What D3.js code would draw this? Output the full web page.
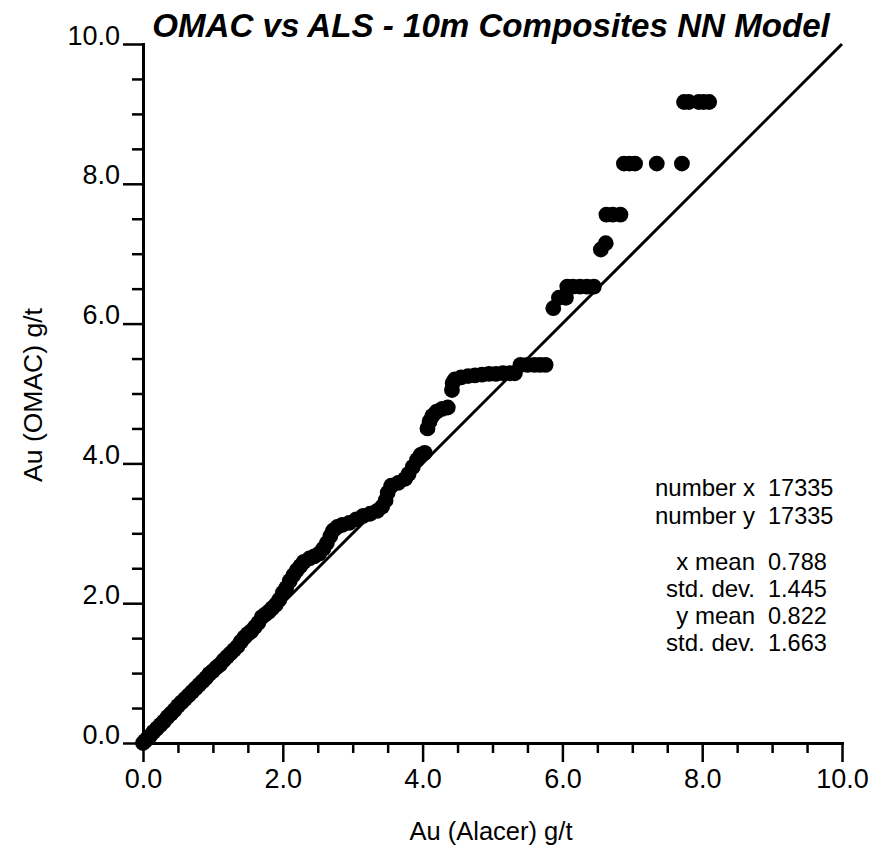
<!DOCTYPE html>
<html><head><meta charset="utf-8">
<script src="https://cdn.jsdelivr.net/npm/d3@7"></script>
<style>
html,body{margin:0;padding:0;background:#fff;}
svg{display:block;font-family:"Liberation Sans",Arial,sans-serif;}
</style></head>
<body>
<svg id="c" width="875" height="855"></svg>
<script>
// ---- data (quantile pairs) ----
const qx = [0,0.03,0.06,0.1,0.15,0.2,0.25,0.3,0.35,0.4,0.45,0.5,0.55,0.6,0.65,0.7,0.75,0.8,0.85,0.9,0.95,1.0,1.05,1.1,1.15,1.2,1.25,1.3,1.35,1.4,1.45,1.5,1.55,1.6,1.65,1.7,1.75,1.8,1.85,1.9,1.95,
  2.0,2.05,2.1,2.15,2.2,2.25,2.3,2.38,2.45,2.52,2.58,2.63,2.68,2.72,2.78,2.85,2.95,3.05,3.15,3.25,3.35,3.42,3.47,3.5,3.55,3.65,3.75,3.8,3.86,3.92,3.97,4.03,
  4.07,4.1,4.14,4.2,4.28,4.36,
  4.42,4.43,4.46,4.55,4.65,4.75,4.85,4.95,5.05,5.15,5.25,5.32,
  5.4,5.5,5.6,5.68,5.76,
  5.87,5.95,6.05,
  6.07,6.15,6.25,6.35,6.45,
  6.55,6.62,
  6.63,6.72,6.83,
  6.88,6.96,7.04,7.35,7.71,
  7.74,7.81,7.95,8.02,8.1];
const qy = [0,0.03,0.06,0.1,0.16,0.21,0.26,0.31,0.37,0.42,0.47,0.53,0.58,0.63,0.68,0.73,0.78,0.83,0.88,0.93,0.99,1.03,1.08,1.12,1.18,1.23,1.28,1.33,1.38,1.45,1.51,1.56,1.6,1.66,1.72,1.8,1.84,1.88,1.93,1.98,2.05,
  2.15,2.22,2.32,2.4,2.47,2.53,2.59,2.64,2.67,2.71,2.78,2.86,2.96,3.04,3.09,3.12,3.15,3.2,3.25,3.28,3.32,3.38,3.47,3.58,3.68,3.72,3.78,3.85,3.95,4.05,4.12,4.15,
  4.5,4.6,4.68,4.74,4.78,4.8,
  5.05,5.15,5.2,5.23,5.25,5.26,5.27,5.28,5.28,5.29,5.29,5.29,
  5.41,5.41,5.41,5.41,5.41,
  6.22,6.37,6.37,
  6.53,6.53,6.53,6.53,6.53,
  7.06,7.15,
  7.56,7.56,7.56,
  8.29,8.29,8.29,8.29,8.29,
  9.17,9.17,9.17,9.17,9.17];
const tickValues = d3.range(0, 10.01, 0.5);
const majorTicks = [0, 2, 4, 6, 8, 10];
const titleText = "OMAC vs ALS - 10m Composites NN Model";
const xTitle = "Au (Alacer) g/t";
const yTitle = "Au (OMAC) g/t";
const statLabels = ["number x", "number y", "x mean", "std. dev.", "y mean", "std. dev."];
const statValues = ["17335", "17335", "0.788", "1.445", "0.822", "1.663"];

const svg = d3.select("#c");
const x = d3.scaleLinear().domain([0, 10]).range([143, 842]);
const y = d3.scaleLinear().domain([0, 10]).range([743, 44]);
const isMajor = v => majorTicks.some(m => Math.abs(m - v) < 1e-9);
const fmt = d3.format(".1f");

// diagonal reference line
svg.append("line")
  .attr("x1", x(0)).attr("y1", y(0)).attr("x2", x(10)).attr("y2", y(10))
  .attr("stroke", "#000").attr("stroke-width", 3);

// points
svg.append("g").selectAll("circle").data(qx.map((v, i) => [v, qy[i]])).join("circle")
  .attr("cx", d => x(d[0])).attr("cy", d => y(d[1])).attr("r", 7.9).attr("fill", "#000");

// x axis
const gx = svg.append("g").attr("transform", `translate(0,${y(0)})`)
  .call(d3.axisBottom(x).tickValues(tickValues).tickSizeOuter(0).tickFormat(v => isMajor(v) ? fmt(v) : ""));
gx.select(".domain").attr("stroke-width", 3);
gx.selectAll(".tick line").attr("stroke-width", 2.5).attr("y2", d => isMajor(d) ? 19 : 10);
gx.selectAll(".tick text").attr("y", 45).attr("dy", "0").attr("font-size", 27)
  .attr("font-family", "'Liberation Sans',Arial,sans-serif").attr("fill", "#000");

// y axis
const gy = svg.append("g").attr("transform", `translate(${x(0)},0)`)
  .call(d3.axisLeft(y).tickValues(tickValues).tickSizeOuter(0).tickFormat(v => isMajor(v) ? fmt(v) : ""));
gy.select(".domain").attr("stroke-width", 3);
gy.selectAll(".tick line").attr("stroke-width", 2.5).attr("x2", d => isMajor(d) ? -20 : -11);
gy.selectAll(".tick text").attr("x", -23).attr("dy", "0").attr("font-size", 27)
  .attr("font-family", "'Liberation Sans',Arial,sans-serif").attr("fill", "#000");
svg.selectAll(".domain").attr("stroke-linecap", "square");

// title
const t = svg.append("text").attr("x", 491).attr("y", 37).attr("text-anchor", "middle")
  .attr("font-weight", "bold").attr("font-style", "italic").attr("font-size", 28).text(titleText);
const tw = t.node().getComputedTextLength();
t.attr("font-size", 28 * 678 / tw);

// axis titles
svg.append("text").attr("x", 491).attr("y", 840).attr("text-anchor", "middle")
  .attr("font-size", 25.5).text(xTitle);
svg.append("text").attr("transform", "translate(42,395) rotate(-90)").attr("text-anchor", "middle")
  .attr("font-size", 26.5).text(yTitle);

// stats box
const rowsY = [496, 524, 570, 597, 624, 651];
svg.append("g").selectAll("text").data(statLabels).join("text")
  .attr("x", 755).attr("y", (d, i) => rowsY[i]).attr("text-anchor", "end").attr("font-size", 24).text(d => d);
svg.append("g").selectAll("text").data(statValues).join("text")
  .attr("x", 768).attr("y", (d, i) => rowsY[i]).attr("text-anchor", "start").attr("font-size", 23.5).text(d => d);
</script>
</body></html>
